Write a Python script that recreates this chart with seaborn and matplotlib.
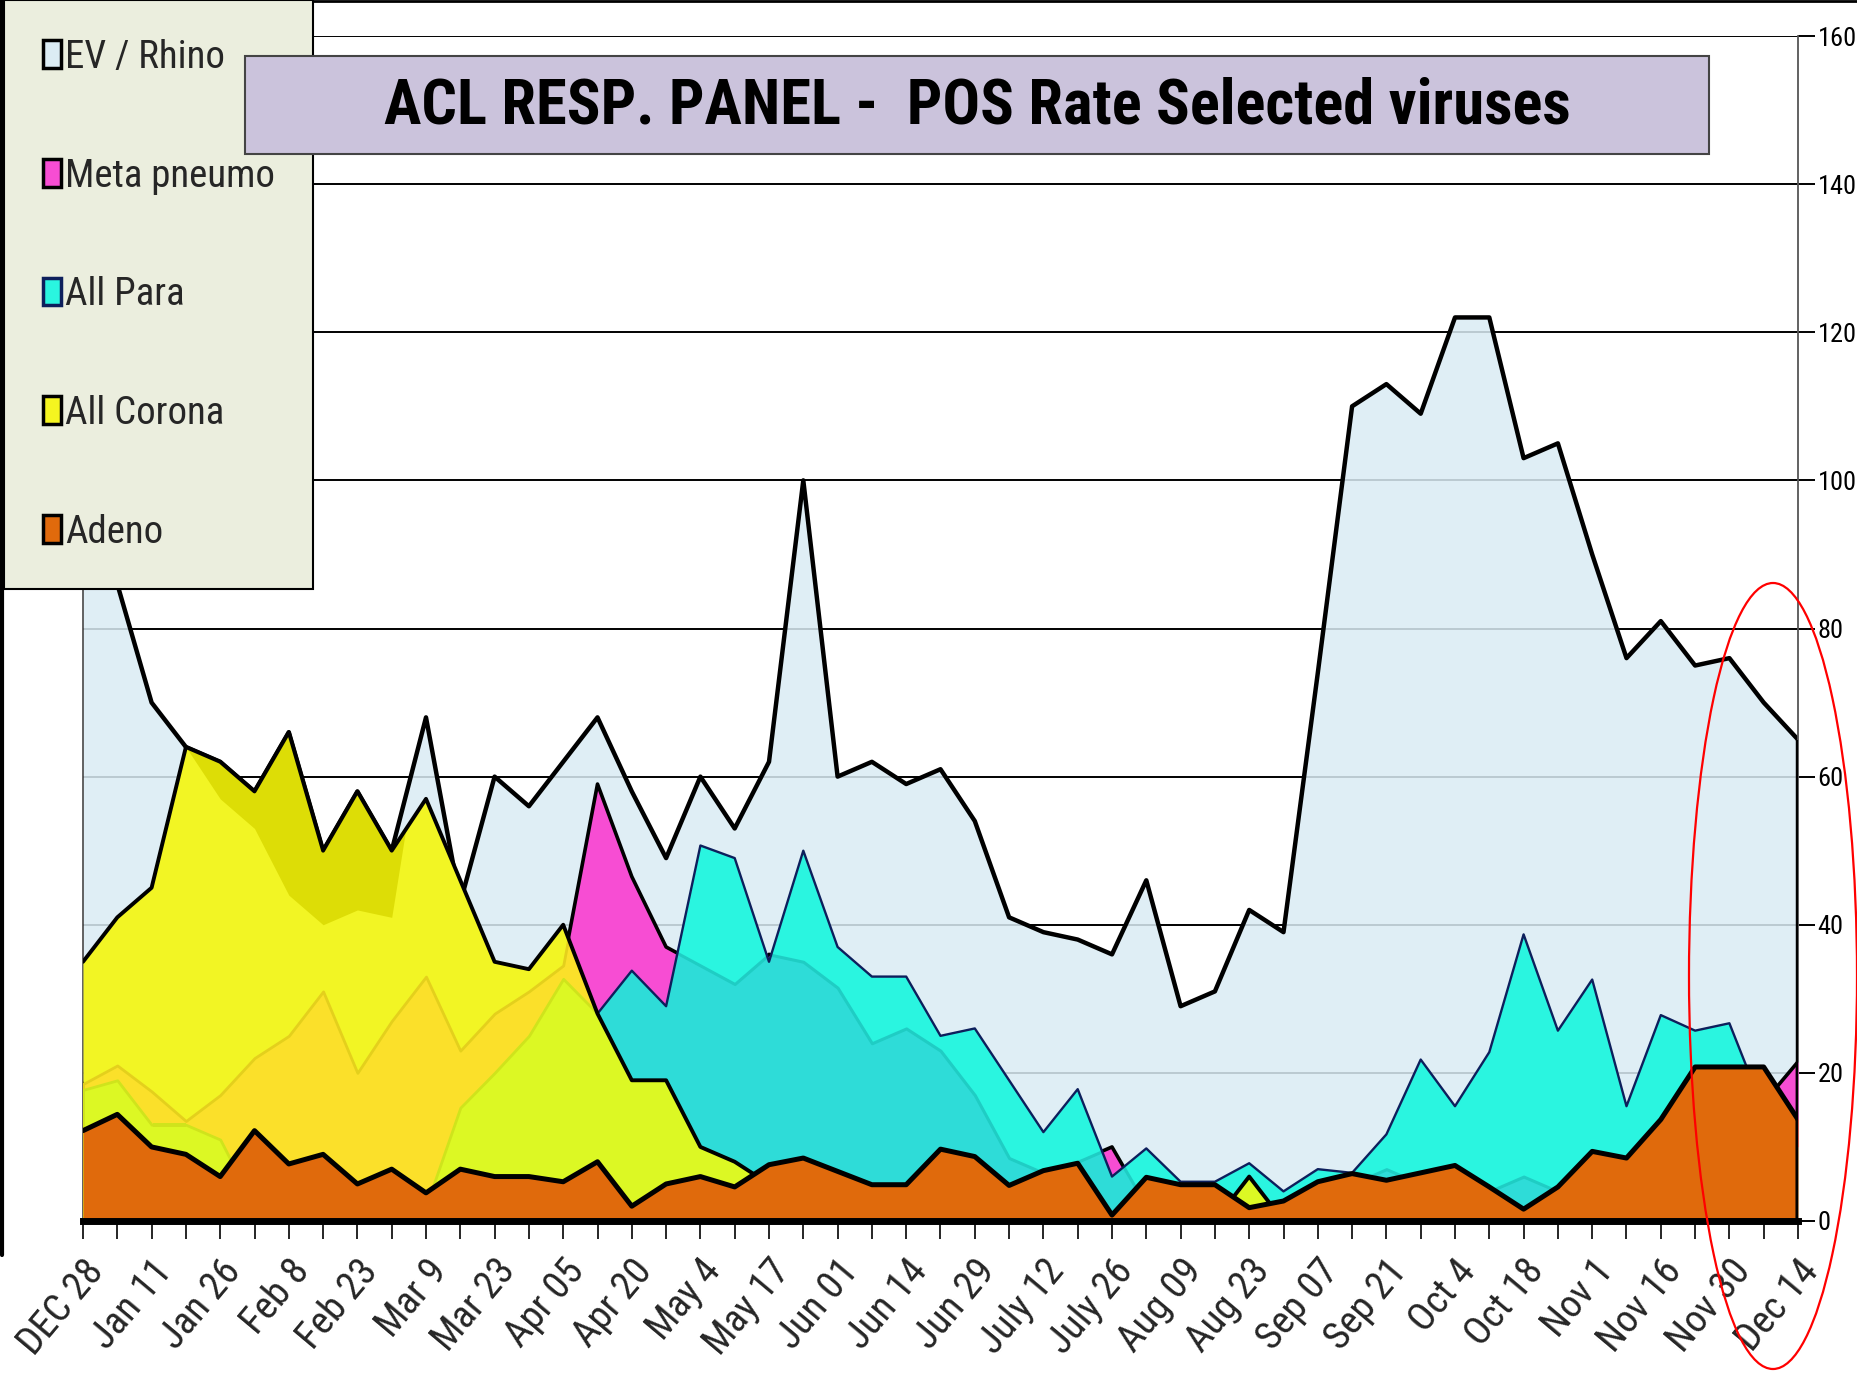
import numpy as np
import pandas as pd
import seaborn as sns
import matplotlib.pyplot as plt
from matplotlib.patches import Patch, Rectangle, Ellipse
from matplotlib.lines import Line2D

# weekly points, labelled every second week
weeks = list(range(51))
tick_labels = ["DEC 28", "Jan 11", "Jan 26", "Feb 8", "Feb 23", "Mar 9", "Mar 23",
               "Apr 05", "Apr 20", "May 4", "May 17", "Jun 01", "Jun 14", "Jun 29",
               "July 12", "July 26", "Aug 09", "Aug 23", "Sep 07", "Sep 21", "Oct 4",
               "Oct 18", "Nov 1", "Nov 16", "Nov 30", "Dec 14"]

ev_rhino = [95, 86, 70, 64, 62, 58, 66, 50, 58, 50,
            68, 43, 60, 56, 62, 68, 58, 49, 60, 53,
            62, 100, 60, 62, 59, 61, 54, 41, 39, 38,
            36, 46, 29, 31, 42, 39, 74, 110, 113, 109,
            122, 122, 103, 105, 90, 76, 81, 75, 76, 70, 65]
meta_pneumo = [18.5, 21, 17.5, 13.5, 17, 22, 25, 31, 20, 27,
               33, 23, 28, 31, 34.5, 59, 46.5, 37, 34.5, 32,
               36, 35, 31.5, 24, 26, 23, 17, 8.5, 6.5, 8,
               10, 2, 2, 2, 1, 2, 4, 5, 7, 5,
               4, 4, 6, 4, 5, 5, 8, 10, 13, 16, 21.5]
all_para = [17.7, 19, 13, 13, 11, 2, 2, 2, 2, 2,
            2, 15.3, 20, 25, 32.7, 28, 33.8, 29, 50.7, 49,
            35, 50, 37, 33, 33, 25, 26, 19, 12, 17.8,
            6, 9.8, 5.3, 5.3, 7.8, 4, 7, 6.5, 11.7, 21.8,
            15.5, 22.8, 38.7, 25.7, 32.6, 15.5, 27.8, 25.7, 26.7, 15, 10]
all_corona = [35, 41, 45, 64, 62, 58, 66, 50, 58, 50,
              57, 46, 35, 34, 40, 28, 19, 19, 10, 8,
              5, 0, 0, 0, 0, 0, 0, 0, 0, 0,
              0, 0, 0, 0, 6, 0, 0, 0, 0, 0,
              0, 0, 0, 0, 0, 0, 0, 0, 0, 0, 0]
adeno = [12.2, 14.4, 10, 9, 6, 12.2, 7.7, 9, 5, 7,
         3.8, 7, 6, 6, 5.3, 8, 2, 5, 6, 4.6,
         7.6, 8.5, 6.7, 4.9, 4.9, 9.7, 8.7, 4.8, 6.8, 7.8,
         0.8, 5.9, 4.9, 4.9, 1.8, 2.7, 5.3, 6.4, 5.5, 6.5,
         7.5, 4.6, 1.6, 4.6, 9.4, 8.5, 13.7, 20.8, 20.8, 20.8, 13.7]

# darker band inside the corona area (Jan-Mar)
shade_weeks = list(range(3, 11))
shade_low = [64, 57, 53, 44, 40, 42, 41, 70]

df = pd.DataFrame({"week": weeks, "EV / Rhino": ev_rhino, "Meta pneumo": meta_pneumo,
                   "All Para": all_para, "All Corona": all_corona, "Adeno": adeno})

sns.set_style("white")
plt.rcParams['font.family'] = ['Roboto Condensed', 'Archivo Narrow', 'PT Sans Narrow',
                               'Barlow Condensed', 'DejaVu Sans']
plt.rcParams['font.stretch'] = 'condensed'

fig = plt.figure(figsize=(18.58, 13.9), dpi=100)
ax = fig.add_axes([83 / 1858, 1 - 1221 / 1390, (1798 - 83) / 1858, (1221 - 36) / 1390])
ax.set_xlim(0, 50)
ax.set_ylim(0, 160)

ax.set_axisbelow(True)
ax.grid(axis='y', color='black', lw=1.4)
ax.grid(axis='x', visible=False)

x = df["week"]

# EV / Rhino (back)
ax.fill_between(x, df["EV / Rhino"], facecolor=(0.855, 0.925, 0.955, 0.86), lw=0, zorder=1)
sns.lineplot(data=df, x="week", y="EV / Rhino", color="black", lw=3.2, ax=ax, zorder=2)

# Meta pneumo
ax.fill_between(x, df["Meta pneumo"], color="#f74dd3", lw=0, zorder=3)
sns.lineplot(data=df, x="week", y="Meta pneumo", color="black", lw=2.6, ax=ax, zorder=4)

# All Para, with the darker tint where it lies over Meta pneumo
para_poly = ax.fill_between(x, df["All Para"], color="#2af5e0", lw=0, zorder=5)
tint = ax.fill_between(x, df["Meta pneumo"], facecolor="#2edcd8", edgecolor="#1fcdc4",
                       lw=2.2, zorder=5.1)
tint.set_clip_path(para_poly.get_paths()[0], ax.transData)
sns.lineplot(data=df, x="week", y="All Para", color="#0d1f5c", lw=1.7, ax=ax, zorder=6)

# All Corona, tinted by what lies behind it
corona_poly = ax.fill_between(x, df["All Corona"], color="#f2f524", lw=0, zorder=7)
corona_path = corona_poly.get_paths()[0]
gold = ax.fill_between(x, df["Meta pneumo"], facecolor="#fbe02a", edgecolor="#e4d01c",
                       lw=2, zorder=7.1)
gold.set_clip_path(corona_path, ax.transData)
lime = ax.fill_between(x, df["All Para"], facecolor="#dcf824", edgecolor="#cfe41c",
                       lw=2, zorder=7.2)
lime.set_clip_path(corona_path, ax.transData)
corona_top = np.array(all_corona)[shade_weeks]
ax.fill_between(shade_weeks, shade_low, corona_top, where=np.array(shade_low) <= corona_top,
                interpolate=True, color="#dddd06", lw=0, zorder=7.3)
sns.lineplot(data=df, x="week", y="All Corona", color="black", lw=2.8, ax=ax, zorder=8)

# Adeno (front)
ax.fill_between(x, df["Adeno"], color="#e06a0c", lw=0, zorder=9)
sns.lineplot(data=df, x="week", y="Adeno", color="black", lw=3.6, ax=ax, zorder=10)

ends = [ev_rhino[-1], meta_pneumo[-1], adeno[-1]]
ax.vlines([weeks[-1]] * len(ends), 0, ends, color="black", lw=3.2, zorder=11)

# axes styling
ax.set_xlabel("")
ax.set_ylabel("")
ax.spines["top"].set_visible(False)
ax.spines["left"].set_color("#555555")
ax.spines["left"].set_linewidth(1.3)
ax.spines["right"].set_color("#555555")
ax.spines["right"].set_linewidth(1.3)
ax.spines["bottom"].set_color("black")
ax.spines["bottom"].set_linewidth(5)
ax.spines["bottom"].set_zorder(12)

ax.yaxis.tick_right()
ax.set_yticks(range(0, 161, 20))
ax.tick_params(axis='y', right=True, left=False, direction='out', length=12, width=1.4,
               labelsize=19, pad=2, colors='black')
ax.set_xticks(weeks)
ax.set_xticklabels([tick_labels[i // 2] if i % 2 == 0 else "" for i in weeks],
                   rotation=50, ha='right', va='top', rotation_mode='anchor', fontsize=28)
ax.tick_params(axis='x', bottom=True, direction='out', length=13, width=1.4, pad=10)

# legend
handles = [
    Patch(facecolor="#dbecf4", edgecolor="black", lw=2.5, label="EV / Rhino"),
    Patch(facecolor="#f74dd3", edgecolor="black", lw=2.5, label="Meta pneumo"),
    Patch(facecolor="#2af5e0", edgecolor="#0d1f5c", lw=2.5, label="All Para"),
    Patch(facecolor="#f5f520", edgecolor="black", lw=2.5, label="All Corona"),
    Patch(facecolor="#e06a0c", edgecolor="black", lw=2.5, label="Adeno"),
]
leg = fig.legend(handles=handles, loc='upper left', bbox_to_anchor=(4 / 1858, 1.0),
                 bbox_transform=fig.transFigure, fontsize=28, handlelength=0.46,
                 handleheight=0.72, handletextpad=0.1, labelspacing=2.1, borderpad=1.0,
                 borderaxespad=0, fancybox=False, frameon=True, edgecolor="black",
                 facecolor="#ebeede", framealpha=1)
leg.get_frame().set_linewidth(1.5)

# title box
fig.add_artist(Rectangle((245 / 1858, 1 - 154 / 1390), 1464 / 1858, 98 / 1390,
                         transform=fig.transFigure, facecolor="#cbc3dc",
                         edgecolor="#444444", lw=1.5, zorder=20))
fig.text(977 / 1858, 1 - 106 / 1390, "ACL RESP. PANEL -  POS Rate Selected viruses",
         ha='center', va='center', fontsize=45, fontweight='bold', color='black', zorder=21)

# red highlight ellipse
fig.add_artist(Ellipse((1773 / 1858, 1 - 976 / 1390), 168 / 1858, 786 / 1390,
                       transform=fig.transFigure, fill=False, edgecolor="red", lw=1.6,
                       zorder=30))

# slide border
fig.add_artist(Line2D([0, 1], [0.999, 0.999], transform=fig.transFigure, color="black", lw=2))
fig.add_artist(Line2D([0.001, 0.001], [1, 1 - 1255 / 1390], transform=fig.transFigure,
                      color="black", lw=3))

fig.savefig("out.png", dpi=100)
